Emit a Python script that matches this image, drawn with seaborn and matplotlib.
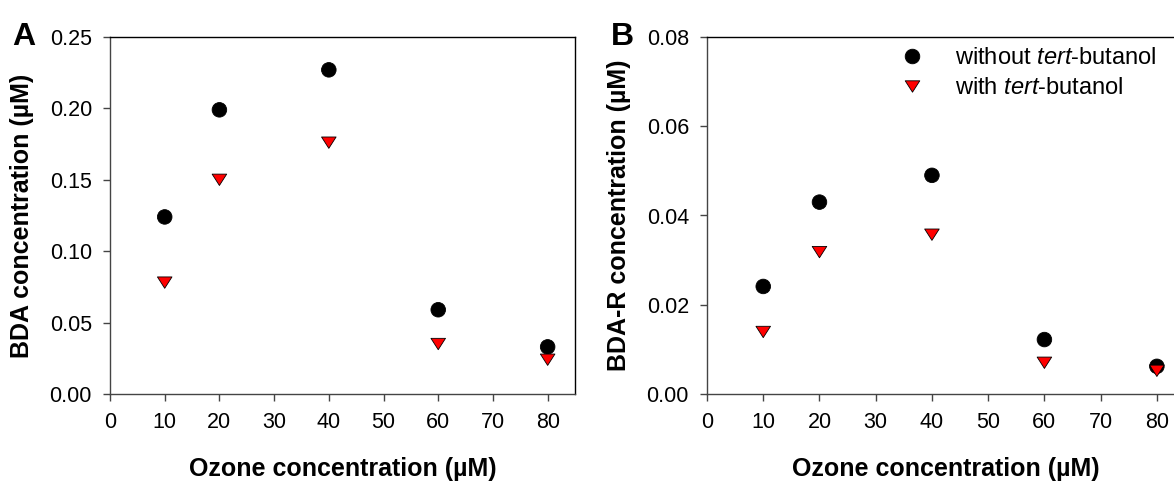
import matplotlib
matplotlib.use("Agg")
import matplotlib.pyplot as plt
from matplotlib.path import Path
from matplotlib.lines import Line2D
import pandas as pd
import seaborn as sns

# Ozone doses (µM)
ozone = [10, 20, 40, 60, 80]

# Panel A: BDA concentration (µM)
bda_without = [0.124, 0.199, 0.227, 0.059, 0.033]
bda_with = [0.078, 0.150, 0.176, 0.035, 0.024]

# Panel B: BDA-R concentration (µM)
bdar_without = [0.0241, 0.0430, 0.0490, 0.0122, 0.0062]
bdar_with = [0.0139, 0.0318, 0.0357, 0.0070, 0.0052]

conditions = ["without $\\mathit{tert}$-butanol", "with $\\mathit{tert}$-butanol"]

x_ticks = [0, 10, 20, 30, 40, 50, 60, 70, 80]
a_ticks = [0.00, 0.05, 0.10, 0.15, 0.20, 0.25]
b_ticks = [0.00, 0.02, 0.04, 0.06, 0.08]

sns.set_theme(style="ticks")
plt.rcParams["font.family"] = ["Liberation Sans", "DejaVu Sans"]
plt.rcParams["mathtext.fontset"] = "custom"
plt.rcParams["mathtext.rm"] = "Liberation Sans"
plt.rcParams["mathtext.it"] = "Liberation Sans:italic"
plt.rcParams["text.color"] = "black"
plt.rcParams["axes.labelcolor"] = "black"
plt.rcParams["xtick.labelcolor"] = "black"
plt.rcParams["ytick.labelcolor"] = "black"

# wide, flat downward triangle
tri = Path([(-1, 0.78), (1, 0.78), (0, -0.78), (-1, 0.78)],
           [Path.MOVETO, Path.LINETO, Path.LINETO, Path.CLOSEPOLY])
markers = {conditions[0]: "o", conditions[1]: tri}
palette = {conditions[0]: "black", conditions[1]: "#ff0000"}


def long_frame(without, with_):
    return pd.DataFrame({
        "ozone": ozone * 2,
        "value": list(without) + list(with_),
        "condition": [conditions[0]] * len(ozone) + [conditions[1]] * len(ozone),
    })


W, H = 1174, 484
fig = plt.figure(figsize=(W / 100, H / 100), dpi=100)
axA = fig.add_axes([110 / W, (H - 394) / H, 465 / W, 357 / H])
axB = fig.add_axes([707 / W, (H - 394) / H, 478 / W, 357 / H])

panels = [
    (axA, long_frame(bda_without, bda_with), a_ticks, "BDA concentration (µM)", "A"),
    (axB, long_frame(bdar_without, bdar_with), b_ticks, "BDA-R concentration (µM)", "B"),
]

for ax, df, yt, ylab, letter in panels:
    sns.scatterplot(data=df, x="ozone", y="value", hue="condition", style="condition",
                    markers=markers, palette=palette, s=110, edgecolor="black",
                    linewidth=0.6, legend=False, ax=ax, zorder=3)
    ax.set_xlim(0, 85)
    ax.set_ylim(yt[0], yt[-1])
    ax.set_xticks(x_ticks)
    ax.set_yticks(yt)
    ax.set_xticklabels([str(t) for t in x_ticks])
    ax.set_yticklabels([f"{t:.2f}" for t in yt])
    ax.tick_params(axis="both", direction="out", length=5, width=1, color="#444444",
                   labelsize=15.5, pad=8, labelcolor="black")
    for side in ["top", "right"]:
        ax.spines[side].set_visible(True)
        ax.spines[side].set_color("black")
        ax.spines[side].set_linewidth(1.0)
    for side in ["left", "bottom"]:
        ax.spines[side].set_color("#444444")
        ax.spines[side].set_linewidth(1.0)
    ax.set_xlabel("Ozone concentration (µM)", fontsize=18, fontweight="bold",
                  labelpad=17, color="black")
    ax.set_ylabel(ylab, fontsize=18, fontweight="bold", labelpad=11, color="black")
    ax.set_facecolor("white")

fig.text(12 / W, 1 - 45 / H, "A", fontsize=23, fontweight="bold", va="baseline",
         color="black")
fig.text(611 / W, 1 - 45 / H, "B", fontsize=23, fontweight="bold", va="baseline",
         color="black")

handles = [
    Line2D([], [], linestyle="none", marker="o", markersize=10.5, markerfacecolor="black",
           markeredgecolor="black", markeredgewidth=0.6),
    Line2D([], [], linestyle="none", marker=tri, markersize=10.5, markerfacecolor="#ff0000",
           markeredgecolor="black", markeredgewidth=0.6),
]
fig.legend(handles, conditions, loc="upper left", frameon=False, fontsize=17,
           bbox_to_anchor=(900 / W, 1 - 47 / H), borderpad=0, borderaxespad=0,
           handlelength=1.0, handletextpad=1.35, labelspacing=0.35, labelcolor="black")

fig.savefig("out.png", dpi=100, facecolor="white")
